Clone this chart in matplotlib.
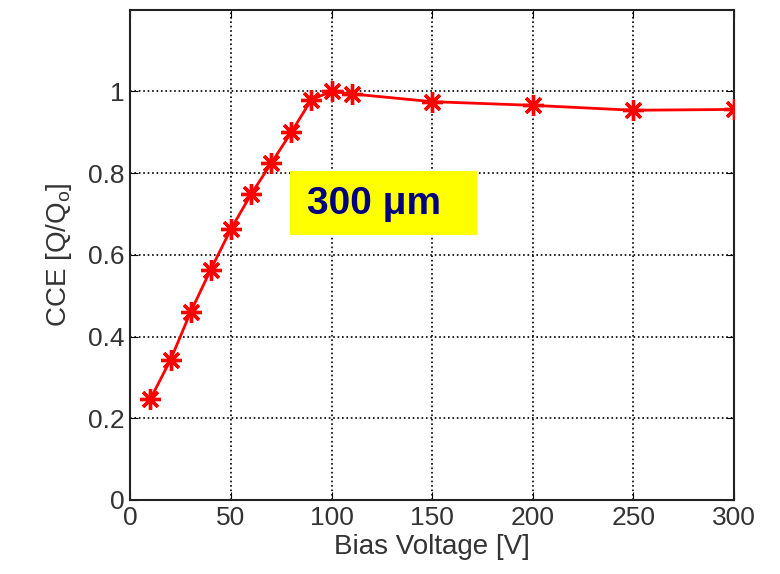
import matplotlib
matplotlib.use('Agg')
import matplotlib.pyplot as plt
from matplotlib.patches import Rectangle

# Bias voltage (V) vs. charge collection efficiency
voltage = [10, 20, 30, 40, 50, 60, 70, 80, 90, 100, 110, 150, 200, 250, 300]
cce = [0.247, 0.343, 0.460, 0.564, 0.663, 0.748, 0.824, 0.900, 0.980, 1.000,
       0.994, 0.975, 0.966, 0.954, 0.956]

xticks = [0, 50, 100, 150, 200, 250, 300]
yticks = [0, 0.2, 0.4, 0.6, 0.8, 1]
ytick_labels = ['0', '0.2', '0.4', '0.6', '0.8', '1']

plt.rcParams['font.family'] = ['Liberation Sans', 'DejaVu Sans']

fig = plt.figure(figsize=(7.8, 5.74), dpi=100)
ax = fig.add_axes([0.167, 0.129, 0.774, 0.854])

# MATLAB-style 8-armed asterisk marker
ax.plot(voltage, cce, color='red', linewidth=2, marker=(8, 2, 0), markersize=15,
        markeredgewidth=2.4, zorder=3)

ax.set_xlim(0, 300)
ax.set_ylim(0, 1.2)
ax.set_xticks(xticks)
ax.set_yticks(yticks)
ax.set_yticklabels(ytick_labels)
ax.grid(True, linestyle=':', color='black', linewidth=1.2)
ax.tick_params(direction='in', top=True, right=True, labelsize=19,
               labelcolor='#333333', length=6, pad=4)
for s in ax.spines.values():
    s.set_linewidth(1.5)
    s.set_color('#222222')

ax.set_xlabel('Bias Voltage [V]', fontsize=20, color='#333333', labelpad=3)
ax.set_ylabel('CCE [Q/Q$_\\mathregular{o}$]', fontsize=20, color='#333333',
              labelpad=10)

# yellow label box
ax.add_patch(Rectangle((0.265, 0.541), 0.31, 0.13, transform=ax.transAxes,
                       facecolor='yellow', edgecolor='none', zorder=4))
ax.text(0.293, 0.603, '300 \u03bcm', transform=ax.transAxes, fontsize=28,
        fontweight='bold', color='#000080', va='center', ha='left', zorder=5)

fig.savefig('out.png', dpi=100)
